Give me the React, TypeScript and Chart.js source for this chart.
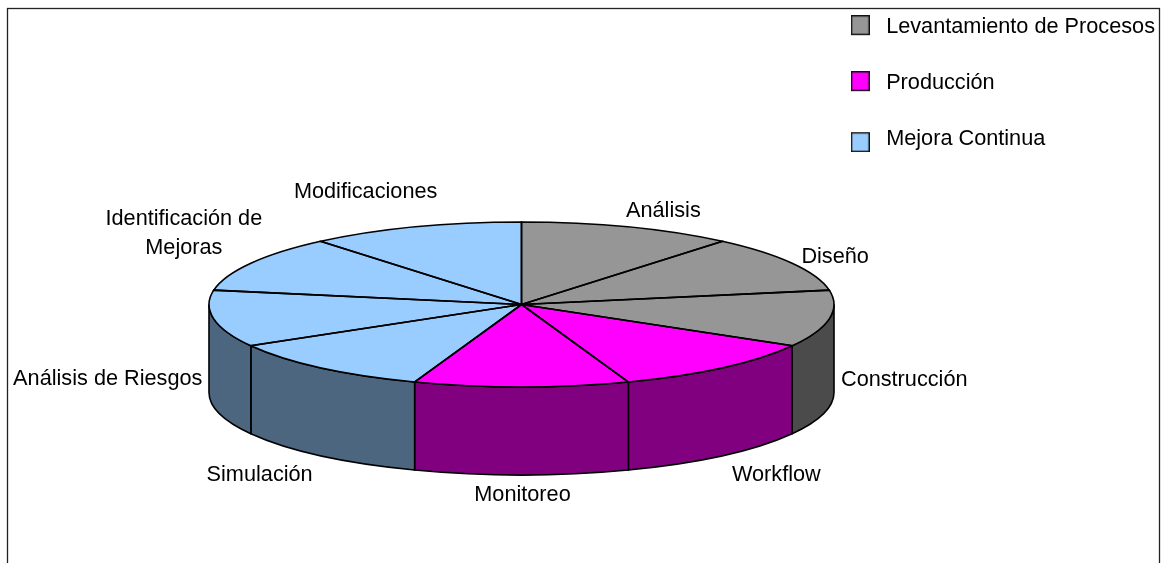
import React, { useEffect, useRef } from "react";
import { Chart, registerables } from "chart.js";

Chart.register(...registerables);

const categories = [
  "Análisis",
  "Diseño",
  "Construcción",
  "Workflow",
  "Monitoreo",
  "Simulación",
  "Análisis de Riesgos",
  "Identificación de\nMejoras",
  "Modificaciones",
];
const values = [1, 1, 1, 1, 1, 1, 1, 1, 1];
const groupNames = ["Levantamiento de Procesos", "Producción", "Mejora Continua"];
const groupOfCategory = [0, 0, 0, 1, 1, 2, 2, 2, 2];
const topColors = ["#969696", "#FF00FF", "#99CCFF"];
const wallColors = ["#4B4B4B", "#800080", "#4D6680"];

const W = 1167;
const H = 563;
const FONT_SIZE = 21.7;
const FONT_FAMILY = '"Liberation Sans", Arial, sans-serif';
const PIE = { cx: 521.5, cy: 304.5, rx: 312.5, ry: 82.5, depth: 88 };
// label centre relative to the middle of each slice's rim
const LABEL_OFFSETS = [
  [35, -16], [43, -6], [75, 61], [54, 107], [1, 108], [-61, 107], [-106, 60], [-67, -30], [-49, -35],
];
// vertical nudge of each legend swatch against its text row
const SWATCH_SHIFT = [-2, -2, 3];

function swatch(fill: string, shift: number) {
  const w = 19;
  const h = 20;
  const c = document.createElement("canvas");
  c.width = w;
  c.height = h + 2 * Math.abs(shift);
  const x = c.getContext("2d")!;
  const top = Math.abs(shift) + shift;
  x.fillStyle = fill;
  x.fillRect(1, top + 1, w - 2, h - 2);
  x.strokeStyle = "#111";
  x.lineWidth = 1.4;
  x.strokeRect(0.7, top + 0.7, w - 1.4, h - 1.4);
  return c;
}

const pie3d = {
  id: "pie3d",
  beforeDraw(chart: any) {
    const { ctx } = chart;
    ctx.save();
    ctx.strokeStyle = "#222";
    ctx.lineWidth = 1.3;
    ctx.strokeRect(7.5, 8.5, 1152, 620);
    ctx.restore();
  },
  beforeDatasetsDraw(chart: any) {
    const { ctx } = chart;
    const arcs = chart.getDatasetMeta(0).data;
    const { cx, cy, rx, ry, depth } = PIE;
    // side wall: only the part of each slice facing the viewer
    ctx.save();
    ctx.strokeStyle = "#000";
    ctx.lineWidth = 1.6;
    arcs.forEach((arc: any, i: number) => {
      const a = Math.max(arc.startAngle, 0);
      const b = Math.min(arc.endAngle, Math.PI);
      if (b <= a) return;
      ctx.beginPath();
      ctx.ellipse(cx, cy, rx, ry, 0, a, b);
      ctx.ellipse(cx, cy + depth, rx, ry, 0, b, a, true);
      ctx.closePath();
      ctx.fillStyle = wallColors[groupOfCategory[i]];
      ctx.fill();
      ctx.stroke();
    });
    ctx.restore();
    // flatten the top face into the ellipse
    const first = arcs[0];
    ctx.save();
    ctx.translate(cx, cy);
    ctx.scale(rx / first.outerRadius, ry / first.outerRadius);
    ctx.translate(-first.x, -first.y);
  },
  afterDatasetsDraw(chart: any) {
    const { ctx } = chart;
    ctx.restore();
    const arcs = chart.getDatasetMeta(0).data;
    const { cx, cy, rx, ry } = PIE;
    ctx.save();
    ctx.strokeStyle = "#000";
    ctx.lineWidth = 1.6;
    arcs.forEach((arc: any) => {
      ctx.beginPath();
      ctx.moveTo(cx, cy);
      ctx.ellipse(cx, cy, rx, ry, 0, arc.startAngle, arc.endAngle);
      ctx.closePath();
      ctx.stroke();
    });
    ctx.fillStyle = "#000";
    ctx.font = `${FONT_SIZE}px ${FONT_FAMILY}`;
    ctx.textAlign = "center";
    ctx.textBaseline = "middle";
    arcs.forEach((arc: any, i: number) => {
      const mid = (arc.startAngle + arc.endAngle) / 2;
      const x = cx + rx * Math.cos(mid) + LABEL_OFFSETS[i][0];
      const y = cy + ry * Math.sin(mid) + LABEL_OFFSETS[i][1];
      const lines = categories[i].split("\n");
      lines.forEach((line, k) => {
        ctx.fillText(line, x, y + (k - (lines.length - 1) / 2) * 29);
      });
    });
    ctx.restore();
  },
};

export default function App() {
  const ref = useRef<HTMLCanvasElement>(null);
  useEffect(() => {
    const chart = new Chart(ref.current!, {
      type: "pie",
      data: {
        labels: categories.map((c) => c.replace("\n", " ")),
        datasets: [
          {
            data: values,
            backgroundColor: groupOfCategory.map((g) => topColors[g]),
            borderWidth: 0,
          },
        ],
      },
      options: {
        responsive: false,
        animation: false,
        layout: { padding: { top: -18, right: 2, bottom: 0, left: 0 } },
        plugins: {
          tooltip: { enabled: false },
          legend: {
            display: true,
            position: "right",
            align: "start",
            onClick: () => {},
            labels: {
              usePointStyle: true,
              pointStyleWidth: 30,
              padding: 34.3,
              color: "#000",
              font: { family: FONT_FAMILY, size: FONT_SIZE },
              generateLabels: () =>
                groupNames.map((text, i) => ({
                  text,
                  fillStyle: topColors[i],
                  strokeStyle: "#000",
                  lineWidth: 1,
                  hidden: false,
                  pointStyle: swatch(topColors[i], SWATCH_SHIFT[i]),
                  fontColor: "#000",
                })),
            },
          },
        },
      },
      plugins: [pie3d],
    } as any);
    return () => chart.destroy();
  }, []);
  return (
    <div style={{ position: "fixed", left: 0, top: 0, width: W, height: H, overflow: "hidden", background: "#fff" }}>
      <canvas ref={ref} width={W} height={H} style={{ display: "block" }} />
    </div>
  );
}
